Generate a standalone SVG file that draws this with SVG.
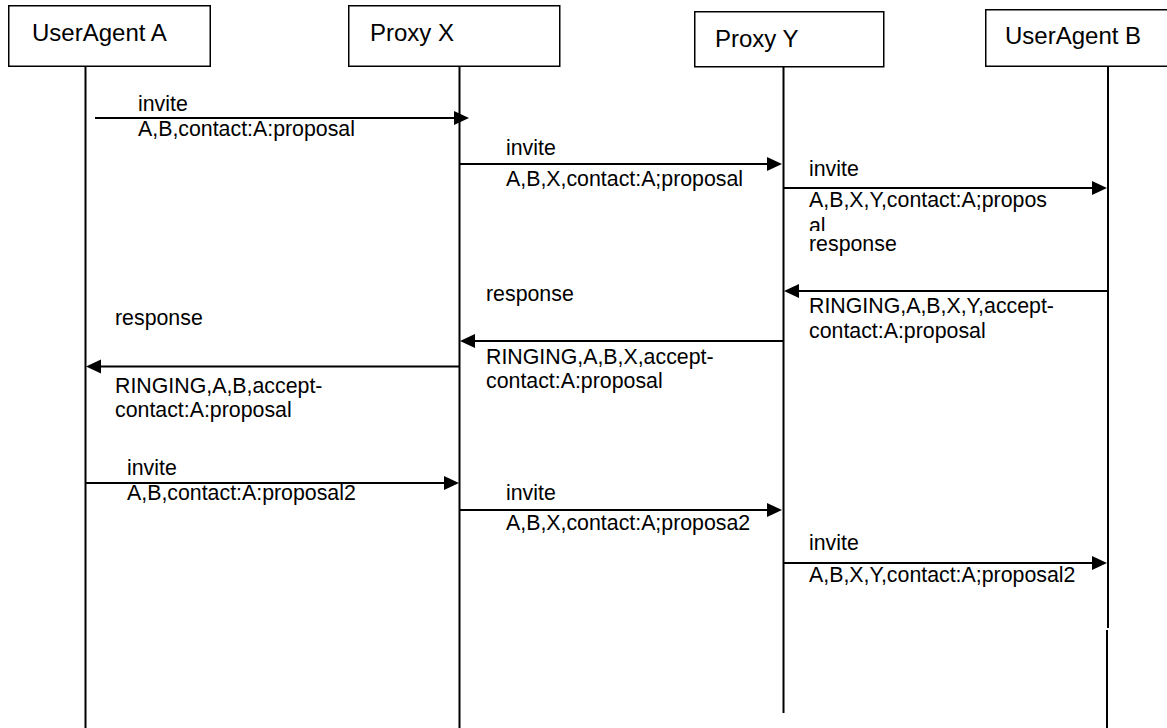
<svg xmlns="http://www.w3.org/2000/svg" width="1167" height="728" viewBox="0 0 1167 728">
<style>
.box{fill:#fff;stroke:#000;stroke-width:1.5}
.life{stroke:#000;stroke-width:2;fill:none}
.msg{stroke:#000;stroke-width:2;fill:none}
.head{fill:#000;stroke:none}
.lbl{font-family:"Liberation Sans",Arial,sans-serif;font-size:24px;fill:#000}
.t{font-family:"Liberation Sans",Arial,sans-serif;font-size:21.33px;fill:#000}
</style>
<defs>
<clipPath id="alclip"><rect x="800" y="210" width="200" height="21"/></clipPath>
</defs>
<rect width="1167" height="728" fill="#fff"/>
<g id="lifelines">
<line class="life" x1="85.5" y1="66" x2="85.5" y2="728"/>
<line class="life" x1="459.5" y1="66" x2="459.5" y2="728"/>
<line class="life" x1="783.5" y1="67" x2="783.5" y2="713"/>
<line class="life" x1="1108" y1="66" x2="1108" y2="628"/>
<line class="life" x1="1107" y1="630" x2="1107" y2="728"/>
</g>
<g id="nodeA"><rect class="box" x="8.75" y="5.75" width="201.5" height="60.5"/><text class="lbl" x="32" y="41">UserAgent A</text></g>
<g id="nodeX"><rect class="box" x="348.75" y="5.75" width="211" height="60.5"/><text class="lbl" x="370" y="41">Proxy X</text></g>
<g id="nodeY"><rect class="box" x="694.75" y="11.75" width="189" height="55"/><text class="lbl" x="715" y="47">Proxy Y</text></g>
<g id="nodeB"><rect class="box" x="985.75" y="9.75" width="185" height="56.5"/><text class="lbl" x="1005" y="44">UserAgent B</text></g>
<g id="connectors">
<line class="msg" x1="95" y1="118" x2="456" y2="118"/><polygon class="head" points="454,111 469,118 454,125"/>
<line class="msg" x1="459" y1="164" x2="769" y2="164"/><polygon class="head" points="767,157 782,164 767,171"/>
<line class="msg" x1="783" y1="188" x2="1094" y2="188"/><polygon class="head" points="1092,181 1107,188 1092,195"/>
<line class="msg" x1="1108" y1="291" x2="797" y2="291"/><polygon class="head" points="799,284 784,291 799,298"/>
<line class="msg" x1="783" y1="341" x2="473" y2="341"/><polygon class="head" points="475,334 460,341 475,348"/>
<line class="msg" x1="459" y1="366.5" x2="99" y2="366.5"/><polygon class="head" points="101,359.5 86,366.5 101,373.5"/>
<line class="msg" x1="85" y1="483" x2="446" y2="483"/><polygon class="head" points="444,476 459,483 444,490"/>
<line class="msg" x1="459" y1="510" x2="769" y2="510"/><polygon class="head" points="767,503 782,510 767,517"/>
<line class="msg" x1="783" y1="563" x2="1094" y2="563"/><polygon class="head" points="1092,556 1107,563 1092,570"/>
</g>
<g id="labels">
<text class="t" x="138" y="111">invite</text>
<text class="t" x="138" y="136">A,B,contact:A:proposal</text>
<text class="t" x="506" y="155">invite</text>
<text class="t" x="506" y="186">A,B,X,contact:A;proposal</text>
<text class="t" x="809" y="176">invite</text>
<text class="t" x="809" y="207">A,B,X,Y,contact:A;propos</text>
<text class="t" x="809" y="233" clip-path="url(#alclip)">al</text>
<text class="t" x="809" y="251">response</text>
<text class="t" x="809" y="313">RINGING,A,B,X,Y,accept-</text>
<text class="t" x="809" y="338">contact:A:proposal</text>
<text class="t" x="486" y="301">response</text>
<text class="t" x="486" y="364">RINGING,A,B,X,accept-</text>
<text class="t" x="486" y="388">contact:A:proposal</text>
<text class="t" x="115" y="325">response</text>
<text class="t" x="115" y="393">RINGING,A,B,accept-</text>
<text class="t" x="115" y="417">contact:A:proposal</text>
<text class="t" x="127" y="475">invite</text>
<text class="t" x="127" y="500">A,B,contact:A:proposal2</text>
<text class="t" x="506" y="500">invite</text>
<text class="t" x="506" y="530">A,B,X,contact:A;proposa2</text>
<text class="t" x="809" y="550">invite</text>
<text class="t" x="809" y="582">A,B,X,Y,contact:A;proposal2</text>
</g>
</svg>
